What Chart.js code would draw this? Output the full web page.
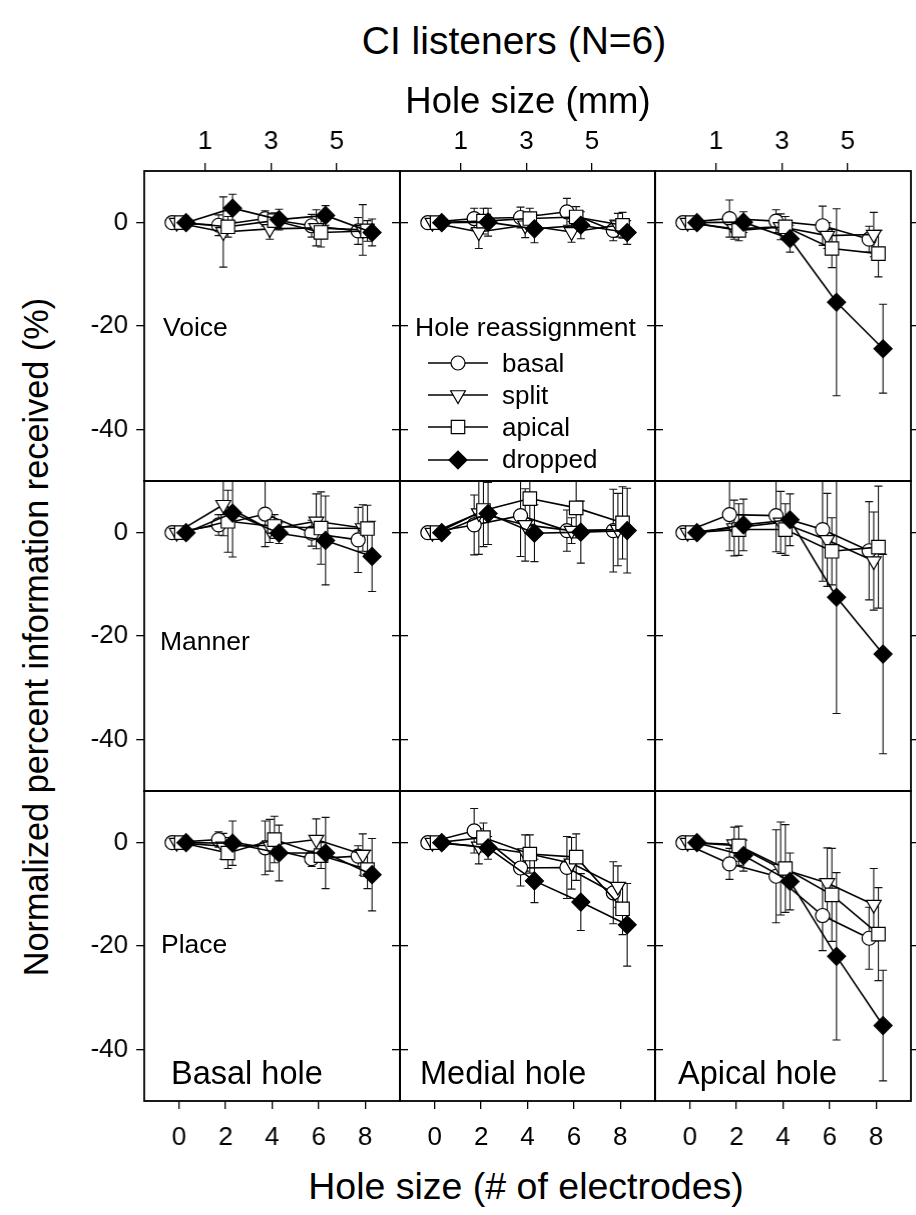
<!DOCTYPE html>
<html><head><meta charset="utf-8">
<script src="https://cdn.jsdelivr.net/npm/chart.js@4.4.1/dist/chart.umd.min.js"></script>
<style>
html,body{margin:0;padding:0;background:#fff;}
#wrap{position:relative;width:916px;height:1215px;overflow:hidden;font-family:"Liberation Sans",Arial,Helvetica,sans-serif;color:#000;}
canvas{position:absolute;}
.t{position:absolute;white-space:nowrap;line-height:1;z-index:5;}
.c{transform:translate(-50%,-50%);}
.l{transform:translate(0,-50%);}
</style></head><body><div id="wrap">
<div class="t c" style="left:514px;top:40px;font-size:39px">CI listeners (N=6)</div>
<div class="t c" style="left:528px;top:101px;font-size:36.5px">Hole size (mm)</div>
<div class="t c" style="left:526px;top:1187px;font-size:37.5px">Hole size (# of electrodes)</div>
<div class="t c" style="left:36px;top:637px;font-size:34.3px;transform:translate(-50%,-50%) rotate(-90deg)">Normalized percent information received (%)</div>
<div class="t l" style="left:163px;top:327px;font-size:26.5px">Voice</div>
<div class="t l" style="left:160px;top:641px;font-size:26.5px">Manner</div>
<div class="t l" style="left:161px;top:944px;font-size:26.5px">Place</div>
<div class="t l" style="left:171px;top:1073px;font-size:32.5px">Basal hole</div>
<div class="t l" style="left:420px;top:1073px;font-size:32.5px">Medial hole</div>
<div class="t l" style="left:678px;top:1073px;font-size:32.5px">Apical hole</div>
<div class="t l" style="left:415px;top:327px;font-size:26.5px">Hole reassignment</div>
<div class="t l" style="left:502px;top:363px;font-size:26px">basal</div>
<div class="t l" style="left:502px;top:395px;font-size:26px">split</div>
<div class="t l" style="left:502px;top:427px;font-size:26px">apical</div>
<div class="t l" style="left:502px;top:459px;font-size:26px">dropped</div>
</div>
<script>
// ---- data ----
const holeSizes = [0, 2, 4, 6, 8];          // # of electrodes
const mmTickLabels = [1, 3, 5];             // top axis (mm)
const yTickValues = [0, -20, -40];
const seriesNames = ['basal', 'split', 'apical', 'dropped'];

// each panel: rows = basal, split, apical, dropped ; columns = hole size 0,2,4,6,8
const voiceBasal  = [[0,-0.5,0.8,-0.6,-1.6],[0,-1.8,-1.2,-1.0,-1.4],[0,-0.8,0.4,-1.9,-1.6],[0,2.8,0.6,1.4,-1.9]];
const voiceBasalErr = [[0,2.0,1.5,2.2,2.6],[0,6.8,2.0,3.5,4.9],[0,2.0,1.5,2.8,2.0],[0,2.7,2.0,1.9,2.6]];
const voiceMedial = [[0,0.8,1.0,2.1,-1.5],[0,-1.8,-0.5,-1.8,-0.5],[0,0.3,0.8,1.1,-0.5],[0,0.1,-1.2,-0.5,-1.9]];
const voiceMedialErr = [[0,2.0,2.0,2.6,2.0],[0,3.2,2.4,2.0,2.3],[0,2.5,2.0,2.0,2.5],[0,2.7,2.7,2.6,2.3]];
const voiceApical = [[0,0.8,0.3,-0.6,-3.2],[0,-1.2,-0.8,-2.5,-2.3],[0,-1.5,-0.8,-5.0,-6.0],[0,0.1,-3.1,-15.4,-24.4]];
const voiceApicalErr = [[0,3.6,2.2,3.8,2.5],[0,2.0,2.5,2.5,4.3],[0,2.0,2.0,3.7,4.5],[0,2.0,2.6,18.1,8.6]];
const mannerBasal = [[0,1.5,3.6,-0.1,-1.4],[0,5.4,0.6,2.2,0.9],[0,2.2,1.2,0.9,0.8],[0,3.8,-0.1,-1.5,-4.6]];
const mannerBasalErr = [[0,2.0,6.3,2.5,6.3],[0,6.0,2.5,5.3,4.5],[0,6.0,2.3,7.0,4.5],[0,8.5,2.0,8.6,6.8]];
const mannerMedial = [[0,1.5,3.3,0.4,0.4],[0,3.8,1.5,0.4,0.6],[0,4.3,6.6,4.8,1.9],[0,3.7,-0.1,0.1,0.4]];
const mannerMedialErr = [[0,5.8,7.9,4.0,8.0],[0,8.0,7.0,2.5,7.0],[0,7.0,5.0,5.8,7.0],[0,6.0,5.5,6.0,8.2]];
const mannerApical = [[0,3.5,3.3,0.6,-3.5],[0,0.9,2.0,-1.4,-5.5],[0,0.6,0.6,-3.6,-2.8],[0,1.5,2.5,-12.5,-23.5]];
const mannerApicalErr = [[0,7.0,7.0,10.0,9.5],[0,5.4,6.0,9.0,9.5],[0,5.0,5.0,6.5,11.8],[0,5.0,5.0,22.5,19.3]];
const placeBasal = [[0,0.6,-1.0,-3.1,-2.6],[0,-0.7,-0.5,0.6,-2.3],[0,-2.0,0.6,-2.5,-5.2],[0,-0.1,-2.0,-2.0,-6.2]];
const placeBasalErr = [[0,1.5,5.2,1.5,2.0],[0,2.5,5.0,4.0,4.0],[0,3.0,4.5,2.5,3.7],[0,4.3,5.4,6.9,7.0]];
const placeMedial = [[0,2.3,-4.9,-4.8,-9.7],[0,-0.7,-2.0,-4.0,-8.5],[0,1.0,-2.2,-2.8,-12.8],[0,-1.0,-7.4,-11.5,-15.9]];
const placeMedialErr = [[0,4.3,3.5,6.0,6.0],[0,3.4,3.5,5.0,4.0],[0,2.8,3.7,4.5,5.0],[0,2.2,4.2,5.5,8.0]];
const placeApical = [[0,-4.1,-6.5,-14.1,-18.5],[0,-0.3,-5.0,-7.8,-12.0],[0,-0.6,-5.0,-10.1,-17.7],[0,-2.5,-7.5,-22.0,-35.4]];
const placeApicalErr = [[0,3.0,9.0,6.8,6.0],[0,3.3,9.0,6.8,7.0],[0,3.8,8.5,9.0,9.0],[0,3.0,5.5,16.2,10.7]];

const panelValues = [[voiceBasal, voiceMedial, voiceApical],[mannerBasal, mannerMedial, mannerApical],[placeBasal, placeMedial, placeApical]];
const panelErrors = [[voiceBasalErr, voiceMedialErr, voiceApicalErr],[mannerBasalErr, mannerMedialErr, mannerApicalErr],[placeBasalErr, placeMedialErr, placeApicalErr]];

// ---- style / layout ----
const FONT = '"Liberation Sans", Arial, Helvetica, sans-serif';
const colLeft = [144, 399.5, 655];
const rowTop = [171, 481, 791];
const PW = 255.5, PH = 310;
const xOffsets = [-0.3, -0.1, 0.1, 0.3];
const mmToElectrode = mm => 1.415 * mm - 0.29;
const pointStyles = [
  {pointStyle:'circle', pointRadius:7, pointRotation:0, pointBackgroundColor:'#fff'},
  {pointStyle:'triangle', pointRadius:8.5, pointRotation:180, pointBackgroundColor:'#fff'},
  {pointStyle:'rect', pointRadius:9.5, pointRotation:0, pointBackgroundColor:'#fff'},
  {pointStyle:'rectRot', pointRadius:9, pointRotation:0, pointBackgroundColor:'#000'}
];
const drawOrder = [3, 2, 1, 0];

const errorBars = {
  id: 'errorBars',
  beforeDatasetsDraw(chart) {
    const ctx = chart.ctx, a = chart.chartArea;
    const xs = chart.scales.x, ys = chart.scales.y;
    ctx.save();
    ctx.beginPath(); ctx.rect(a.left, a.top, a.right - a.left, a.bottom - a.top); ctx.clip();
    ctx.strokeStyle = '#111'; ctx.lineWidth = 1.1;
    chart.data.datasets.forEach(ds => {
      ds.data.forEach(d => {
        if (!d.e) return;
        const px = xs.getPixelForValue(d.x);
        const pt = ys.getPixelForValue(d.y + d.e), pb = ys.getPixelForValue(d.y - d.e);
        ctx.beginPath();
        ctx.moveTo(px, pt); ctx.lineTo(px, pb);
        ctx.moveTo(px - 4, pt); ctx.lineTo(px + 4, pt);
        ctx.moveTo(px - 4, pb); ctx.lineTo(px + 4, pb);
        ctx.stroke();
      });
    });
    ctx.restore();
  }
};
const frame = {
  id: 'frame',
  afterDraw(chart) {
    const ctx = chart.ctx, a = chart.chartArea;
    ctx.save(); ctx.strokeStyle = '#000'; ctx.lineWidth = 1.8;
    ctx.strokeRect(a.left, a.top, a.right - a.left, a.bottom - a.top);
    ctx.restore();
  }
};
const legendSymbols = {
  id: 'legendSymbols',
  afterDraw(chart) {
    if (!chart.options.plugins.legendSymbols || !chart.options.plugins.legendSymbols.show) return;
    const ctx = chart.ctx, a = chart.chartArea;
    const rows = [192, 224, 256, 289];
    ctx.save();
    seriesNames.forEach((n, s) => {
      const y = a.top + rows[s];
      ctx.strokeStyle = '#000'; ctx.lineWidth = 1.5;
      ctx.beginPath(); ctx.moveTo(a.left + 28, y); ctx.lineTo(a.left + 88, y); ctx.stroke();
      const ps = pointStyles[s];
      ctx.fillStyle = ps.pointBackgroundColor; ctx.strokeStyle = '#000'; ctx.lineWidth = 1.2;
      Chart.helpers.drawPoint(ctx, {pointStyle: ps.pointStyle, radius: ps.pointRadius, rotation: ps.pointRotation, borderWidth: 1.2}, a.left + 58, y);
    });
    ctx.restore();
  }
};

const wrap = document.getElementById('wrap');
for (let r = 0; r < 3; r++) {
  for (let c = 0; c < 3; c++) {
    const mL = c === 0 ? 80 : 30, mR = 30, mT = r === 0 ? 60 : 30, mB = r === 2 ? 60 : 30;
    const cv = document.createElement('canvas');
    const W = PW + mL + mR, H = PH + mT + mB;
    cv.style.left = (colLeft[c] - mL) + 'px';
    cv.style.top = (rowTop[r] - mT) + 'px';
    cv.style.width = W + 'px'; cv.style.height = H + 'px';
    cv.width = W; cv.height = H;
    wrap.insertBefore(cv, wrap.firstChild);
    const vals = panelValues[r][c], errs = panelErrors[r][c];
    const datasets = seriesNames.map((name, s) => Object.assign({
      label: name,
      data: holeSizes.map((h, i) => ({x: h + xOffsets[s], y: vals[s][i], e: errs[s][i]})),
      showLine: true,
      borderColor: '#000', borderWidth: 1.6,
      pointBorderColor: '#000', pointBorderWidth: 1.2,
      order: drawOrder[s]
    }, pointStyles[s]));
    const tickFont = {family: FONT, size: 26};
    new Chart(cv, {
      type: 'scatter',
      data: {datasets},
      options: {
        responsive: false, animation: false, events: [],
        layout: {padding: 0, autoPadding: false},
        plugins: {legend: {display: false}, tooltip: {enabled: false}, legendSymbols: {show: r === 0 && c === 1}},
        scales: {
          x: {type: 'linear', axis: 'x', position: 'bottom', min: -1.5, max: 9.5,
            afterFit: s => { s.height = mB; },
            afterBuildTicks: s => { s.ticks = r === 2 ? holeSizes.map(v => ({value: v})) : []; },
            ticks: {display: r === 2, autoSkip: false, maxRotation: 0, padding: 13, font: tickFont, color: '#000'},
            grid: {drawOnChartArea: false, drawTicks: r === 2, tickLength: 8, color: '#000', lineWidth: 1.3},
            border: {display: false}},
          xTop: {type: 'linear', axis: 'x', position: 'top', min: -1.5, max: 9.5,
            afterFit: s => { s.height = mT; },
            afterBuildTicks: s => { s.ticks = r === 0 ? mmTickLabels.map(m => ({value: mmToElectrode(m)})) : []; },
            ticks: {display: r === 0, autoSkip: false, maxRotation: 0, padding: 6, font: tickFont, color: '#000',
              callback: (v, i) => String(mmTickLabels[i])},
            grid: {drawOnChartArea: false, drawTicks: r === 0, tickLength: 8, color: '#000', lineWidth: 1.3},
            border: {display: false}},
          y: {type: 'linear', axis: 'y', position: 'left', min: -50, max: 10,
            afterFit: s => { s.width = mL; },
            afterBuildTicks: s => { s.ticks = yTickValues.map(v => ({value: v})); },
            ticks: {display: c === 0, autoSkip: false, padding: 8, font: tickFont, color: '#000', callback: v => String(v)},
            grid: {drawOnChartArea: false, drawTicks: true, tickLength: 8, color: '#000', lineWidth: 1.3},
            border: {display: false}},
          yRight: {type: 'linear', axis: 'y', position: 'right', min: -50, max: 10,
            afterFit: s => { s.width = mR; },
            afterBuildTicks: s => { s.ticks = yTickValues.map(v => ({value: v})); },
            ticks: {display: false},
            grid: {drawOnChartArea: false, drawTicks: true, tickLength: 8, color: '#000', lineWidth: 1.3},
            border: {display: false}}
        }
      },
      plugins: [errorBars, frame, legendSymbols]
    });
  }
}
</script>
</body></html>
